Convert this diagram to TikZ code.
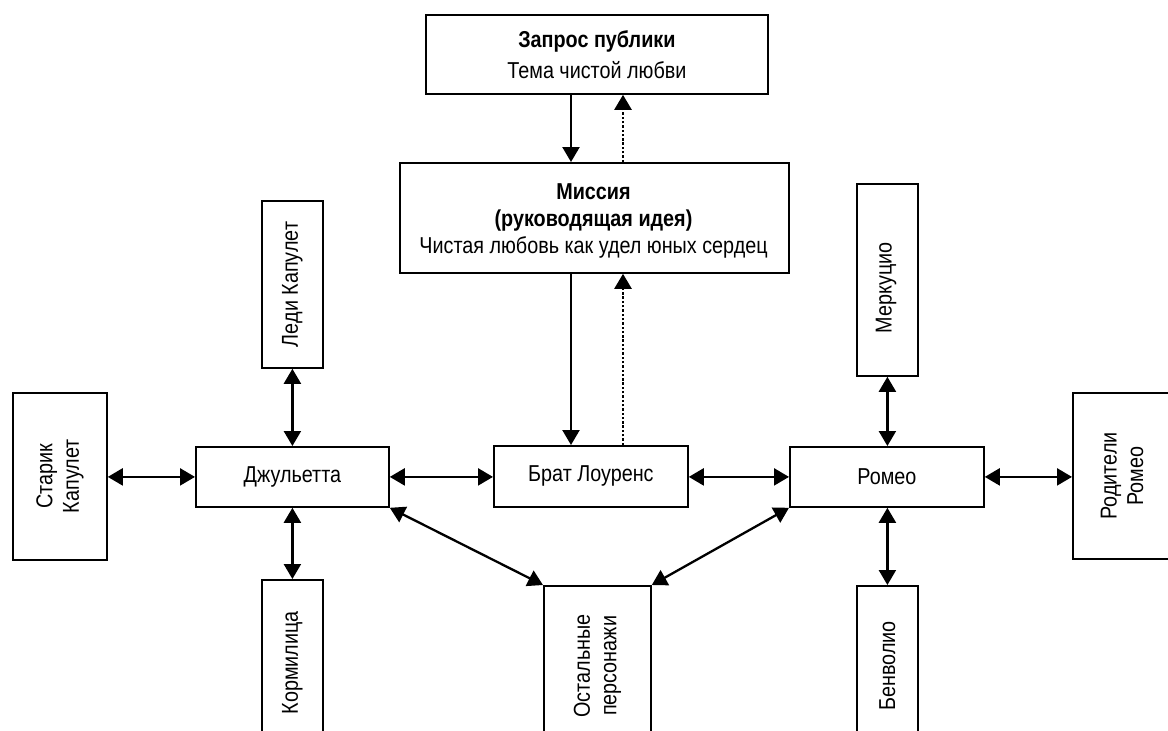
\documentclass[tikz,border=0pt]{standalone}
\usepackage{fontspec}
\setmainfont{Liberation Sans}[FakeStretch=0.86]
\usetikzlibrary{arrows.meta}
\newcommand{\fs}{\fontsize{23}{26.5}\selectfont}
\tikzset{
  box/.style={draw, line width=1.8pt, inner sep=0pt, align=center, font=\fs, anchor=north west},
  rtext/.style={font=\fs, align=center, rotate=90, inner sep=0pt},
  both/.style={line width=2.3pt, {Triangle[length=15pt,width=17pt]}-{Triangle[length=15pt,width=17pt]}},
  down/.style={line width=2.3pt, -{Triangle[length=15pt,width=17pt]}},
  dotup/.style={line width=2.4pt, dash pattern=on 2.4pt off 1.9pt, -{Triangle[length=15pt,width=17pt]}}
}
\begin{document}
\begin{tikzpicture}[x=1pt,y=-1pt]
\useasboundingbox (0,0) rectangle (1168,731);
\clip (0,0) rectangle (1168,731);
% top boxes
\node[box, minimum width=342pt, minimum height=79pt] (zap) at (425,14)
  {\textbf{Запрос публики}\\[4.5pt]Тема чистой любви};
\node[box, minimum width=389pt, minimum height=110pt] (mis) at (399,162) {};
\node[font=\fs, align=center, inner sep=0pt] (mistxt) at (593.5,221)
  {\textbf{Миссия}\\[0.5pt]\textbf{(руководящая идея)}\\[0.5pt]Чистая любовь как удел юных сердец};
% middle row
\node[box, minimum width=193pt, minimum height=60pt] (jul) at (195,446) {Джульетта};
\node[box, minimum width=194pt, minimum height=61pt] (brat) at (493,445) {Брат Лоуренс};
\node[box, minimum width=194pt, minimum height=60pt] (rom) at (789,446) {Ромео};
% side boxes
\node[box, minimum width=94pt, minimum height=167pt] (star) at (12,392) {};
\node[rtext] (startxt) at (star.center) {Старик\\Капулет};
\node[box, minimum width=100pt, minimum height=166pt] (rod) at (1072,392) {};
\node[rtext] (rodtxt) at (1122,476) {Родители\\Ромео};
% vertical boxes
\node[box, minimum width=61pt, minimum height=167pt] (ledi) at (261,200) {};
\node[rtext] (leditxt) at (ledi.center) {Леди Капулет};
\node[box, minimum width=61pt, minimum height=166pt] (korm) at (261,579) {};
\node[rtext] (kormtxt) at (korm.center) {Кормилица};
\node[box, minimum width=61pt, minimum height=192pt] (merc) at (856,183) {};
\node[rtext] (merctxt) at (886,288) {Меркуцио};
\node[box, minimum width=61pt, minimum height=160pt] (benv) at (856,585) {};
\node[rtext] (benvtxt) at (benv.center) {Бенволио};
\node[box, minimum width=107pt, minimum height=160pt] (ost) at (543,585) {};
\node[rtext] (osttxt) at (ost.center) {Остальные\\персонажи};
% vertical guide coordinates
\coordinate (lx) at (571,0);
\coordinate (rx) at (623,0);
% mission links
\draw[down] (zap.south -| lx) -- (mis.north -| lx);
\draw[dotup] (mis.north -| rx) -- (zap.south -| rx);
\draw[down] (mis.south -| lx) -- (brat.north -| lx);
\draw[dotup] (brat.north -| rx) -- (mis.south -| rx);
% two-way links
\draw[both] (star.east |- jul.west) -- (jul.west);
\draw[both] (jul.east) -- (brat.west |- jul.east);
\draw[both] (brat.east |- rom.west) -- (rom.west);
\draw[both] (rom.east) -- (rod.west |- rom.east);
\draw[both] (ledi.south) -- (jul.north -| ledi.south);
\draw[both] (jul.south -| korm.north) -- (korm.north);
\draw[both] (merc.south) -- (rom.north -| merc.south);
\draw[both] (rom.south -| benv.north) -- (benv.north);
\draw[both] (jul.south east) -- (ost.north west);
\draw[both] (rom.south west) -- (ost.north east);
\end{tikzpicture}
\end{document}
